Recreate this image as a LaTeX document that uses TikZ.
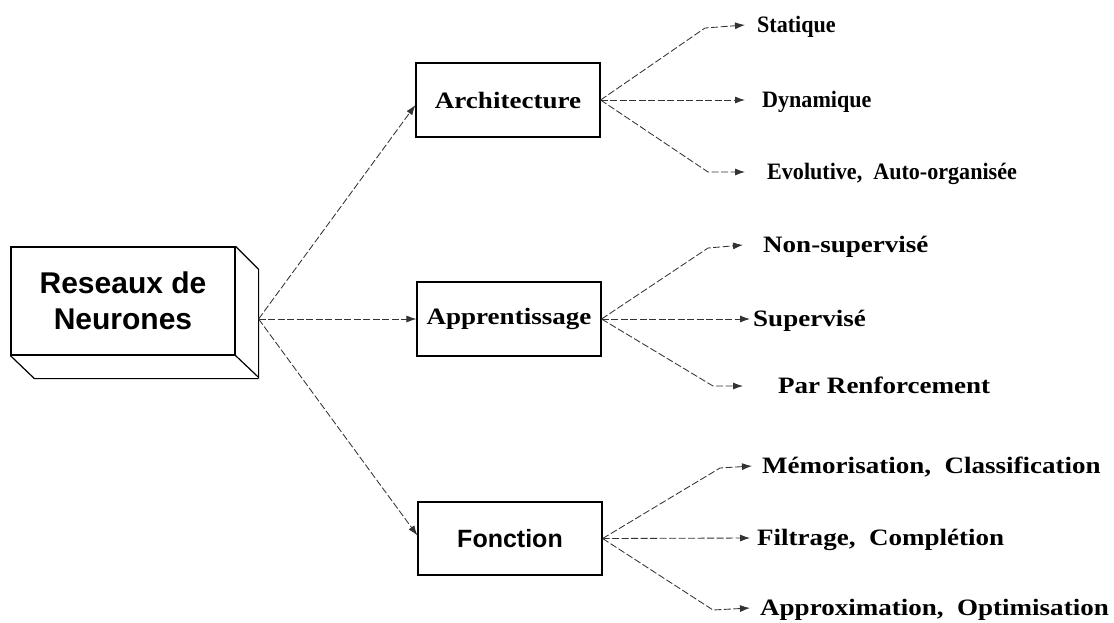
\documentclass[tikz,border=0pt]{standalone}
\usepackage{fontspec}
\usetikzlibrary{arrows.meta}
% Serif labels: one wide cut, one slightly condensed cut; box titles in a sans face
\newfontfamily\leafwide{Liberation Serif}[FakeStretch=1.15]
\newfontfamily\leafnarrow{Liberation Serif}[FakeStretch=0.94]
\newfontfamily\headsans{Liberation Sans}

\begin{document}
\begin{tikzpicture}[x=1pt,y=-1pt,
  frame/.style={draw=black, line width=1.2pt},
  catbox/.style={frame, minimum width=184pt, minimum height=74pt, inner sep=0pt,
    font=\fontsize{23.5}{28}\selectfont\leafwide\bfseries},
  sansbox/.style={catbox, font=\fontsize{25}{30}\selectfont\headsans\bfseries},
  leaf/.style={anchor=west, inner sep=0pt, text height=15.5pt, text depth=0pt,
    font=\fontsize{23.5}{28}\selectfont\leafwide\bfseries},
  leafnarrow/.style={leaf, font=\fontsize{23.5}{28}\selectfont\leafnarrow\bfseries},
  link/.style={draw=black!80, line width=0.85pt, dash pattern=on 7pt off 2.5pt,
    -{Latex[length=10pt,width=7pt]}}
]
\useasboundingbox (0,0) rectangle (1114,622);

% main block drawn as a box with depth
\node[frame, minimum width=224pt, minimum height=108pt, inner sep=0pt, align=center,
  font=\fontsize{30}{36}\selectfont\headsans\bfseries] (rn) at (123,301) {Reseaux de\\Neurones};
\draw[frame] (rn.north east) -- ++(23,23) -- ++(0,108) -- (rn.south east);
\draw[frame] (rn.south west) -- ++(24,23) -- ([shift={(23,23)}]rn.south east);
\coordinate (rnout) at ([shift={(23,18)}]rn.east);

% the three categories
\node[catbox] (arch) at (508,100) {Architecture};
\node[catbox] (appr) at (509,319) {Apprentissage};
\node[sansbox, minimum height=73pt] (fonc) at (510,538.5) {Fonction};

\draw[link] (rnout) -- ([yshift=-5pt]arch.west);
\draw[link] (rnout) -- (appr.west);
\draw[link] (rnout) -- ([yshift=3pt]fonc.west);

% Architecture
\node[leafnarrow] (stat) at (757,25) {Statique};
\node[leafnarrow] (dyn) at (762,100) {Dynamique};
\node[leafnarrow] (evo) at (767,172) {Evolutive,~ Auto-organisée};
\draw[link] (arch.east) -- ([xshift=-52pt,yshift=-3pt]stat.west) -- ([xshift=-12pt]stat.west);
\draw[link] (arch.east) -- ([xshift=-17pt]dyn.west);
\draw[link] (arch.east) -- ([xshift=-59pt]evo.west) -- ([xshift=-22pt]evo.west);

% Apprentissage
\node[leaf] (nons) at (763,245) {Non-supervisé};
\node[leaf] (sup) at (753,319) {Supervisé};
\node[leaf] (par) at (778,386) {Par Renforcement};
\draw[link] (appr.east) -- ([xshift=-55pt,yshift=-3pt]nons.west) -- ([xshift=-20pt]nons.west);
\draw[link] (appr.east) -- ([xshift=-3pt]sup.west);
\draw[link] (appr.east) -- ([xshift=-65pt]par.west) -- ([xshift=-35pt]par.west);

% Fonction
\node[leaf] (mem) at (762,466) {Mémorisation,~ Classification};
\node[leaf] (fil) at (757,538) {Filtrage,~ Complétion};
\node[leaf] (app) at (760,608) {Approximation,~ Optimisation};
\draw[link] (fonc.east) -- ([xshift=-42pt,yshift=-2pt]mem.west) -- ([xshift=-10pt]mem.west);
\draw[link] (fonc.east) -- ([xshift=-7pt]fil.west);
\draw[link] (fonc.east) -- ([xshift=-47pt,yshift=-2pt]app.west) -- ([xshift=-10pt]app.west);
\end{tikzpicture}
\end{document}
